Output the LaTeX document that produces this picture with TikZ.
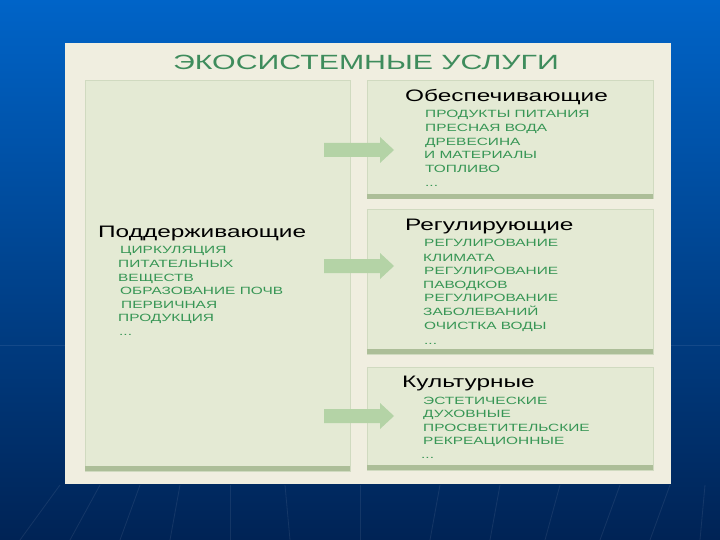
\documentclass[tikz,border=0pt]{standalone}
\usepackage{fontspec}
\setmainfont{Liberation Sans}
\newfontfamily\wide[FakeStretch=1.47]{Liberation Sans}
\definecolor{bgtop}{RGB}{0,100,200}
\definecolor{bgbot}{RGB}{0,35,85}
\definecolor{panel}{RGB}{240,238,224}
\definecolor{boxfill}{RGB}{228,234,212}
\definecolor{boxline}{RGB}{208,218,192}
\definecolor{boxbar}{RGB}{172,190,152}
\definecolor{titlegreen}{RGB}{62,140,92}
\definecolor{itemgreen}{RGB}{55,150,85}
\definecolor{arrowgreen}{RGB}{180,211,166}
\tikzset{
  boxstyle/.style={fill=boxfill, draw=boxline, line width=1pt},
  barstyle/.style={fill=boxbar},
  head/.style={inner sep=0pt, anchor=base west, font=\wide\fontsize{16.6}{18}\selectfont, text=black},
  item/.style={inner sep=0pt, anchor=base west, font=\wide\fontsize{10.5}{12}\selectfont, text=itemgreen},
  arrowfill/.style={fill=arrowgreen},
  faint/.style={draw=white, opacity=0.08, line width=0.8pt}
}
\begin{document}
\begin{tikzpicture}[x=1pt,y=-1pt]
\useasboundingbox (0,0) rectangle (720,540);
\shade[top color=bgtop, bottom color=bgbot] (0,0) rectangle (720,540);
% faint background lines
\draw[faint] (0,345) -- (65,345);
\draw[faint] (671,345) -- (720,345);
\foreach \xa/\xb in {20/60, 70/100, 120/140, 170/180, 230/230, 290/285, 360/360, 430/440, 490/500, 545/560, 600/620, 650/670, 700/705} {
  \draw[faint] (\xa,540) -- (\xb,485);
}
% panel
\fill[panel] (65,43) rectangle (671,484);
% title
\node[inner sep=0pt, anchor=base, font=\wide\fontsize{20.6}{23}\selectfont, text=titlegreen] (title) at (366,69.5) {ЭКОСИСТЕМНЫЕ УСЛУГИ};
% boxes
\path[boxstyle] (85,81) rectangle (350,471);
\fill[barstyle] (85,466) rectangle (350,471);
\path[boxstyle] (367,81) rectangle (653,199);
\fill[barstyle] (367,194) rectangle (653,199);
\path[boxstyle] (367,210) rectangle (653,354);
\fill[barstyle] (367,349) rectangle (653,354);
\path[boxstyle] (367,367) rectangle (653,470);
\fill[barstyle] (367,465) rectangle (653,470);
% arrows
\foreach \yc in {150,266,416} {
  \fill[arrowfill] (324,\yc-7) -- (380,\yc-7) -- (380,\yc-13) -- (394,\yc) -- (380,\yc+13) -- (380,\yc+7) -- (324,\yc+7) -- cycle;
}
% supporting
\node[head] (sup) at (98,237) {Поддерживающие};
\node[item] (s1) at (120,254) {ЦИРКУЛЯЦИЯ};
\node[item] (s2) at (118,267) {ПИТАТЕЛЬНЫХ};
\node[item] (s3) at (118,281) {ВЕЩЕСТВ};
\node[item] (s4) at (120,294) {ОБРАЗОВАНИЕ ПОЧВ};
\node[item] (s5) at (121,308) {ПЕРВИЧНАЯ};
\node[item] (s6) at (118,321) {ПРОДУКЦИЯ};
\node[item] (s7) at (119,335) {...};
% provisioning
\node[head] (prov) at (405,102) {Обеспечивающие};
\node[item] (p1) at (425,118) {ПРОДУКТЫ ПИТАНИЯ};
\node[item] (p2) at (425,132) {ПРЕСНАЯ ВОДА};
\node[item] (p3) at (425,145.5) {ДРЕВЕСИНА};
\node[item] (p4) at (424,159) {И МАТЕРИАЛЫ};
\node[item] (p5) at (425,173) {ТОПЛИВО};
\node[item] (p6) at (425,187) {...};
% regulating
\node[head] (reg) at (405,230) {Регулирующие};
\node[item] (r1) at (424,247) {РЕГУЛИРОВАНИЕ};
\node[item] (r2) at (423,261) {КЛИМАТА};
\node[item] (r3) at (424,274) {РЕГУЛИРОВАНИЕ};
\node[item] (r4) at (423,288) {ПАВОДКОВ};
\node[item] (r5) at (424,301) {РЕГУЛИРОВАНИЕ};
\node[item] (r6) at (423,315) {ЗАБОЛЕВАНИЙ};
\node[item] (r7) at (424,329) {ОЧИСТКА ВОДЫ};
\node[item] (r8) at (424,344) {...};
% cultural
\node[head] (cult) at (402,387) {Культурные};
\node[item] (c1) at (423,404) {ЭСТЕТИЧЕСКИЕ};
\node[item] (c2) at (423,417) {ДУХОВНЫЕ};
\node[item] (c3) at (423,431) {ПРОСВЕТИТЕЛЬСКИЕ};
\node[item] (c4) at (423,444) {РЕКРЕАЦИОННЫЕ};
\node[item] (c5) at (421,458) {...};
\end{tikzpicture}
\end{document}
